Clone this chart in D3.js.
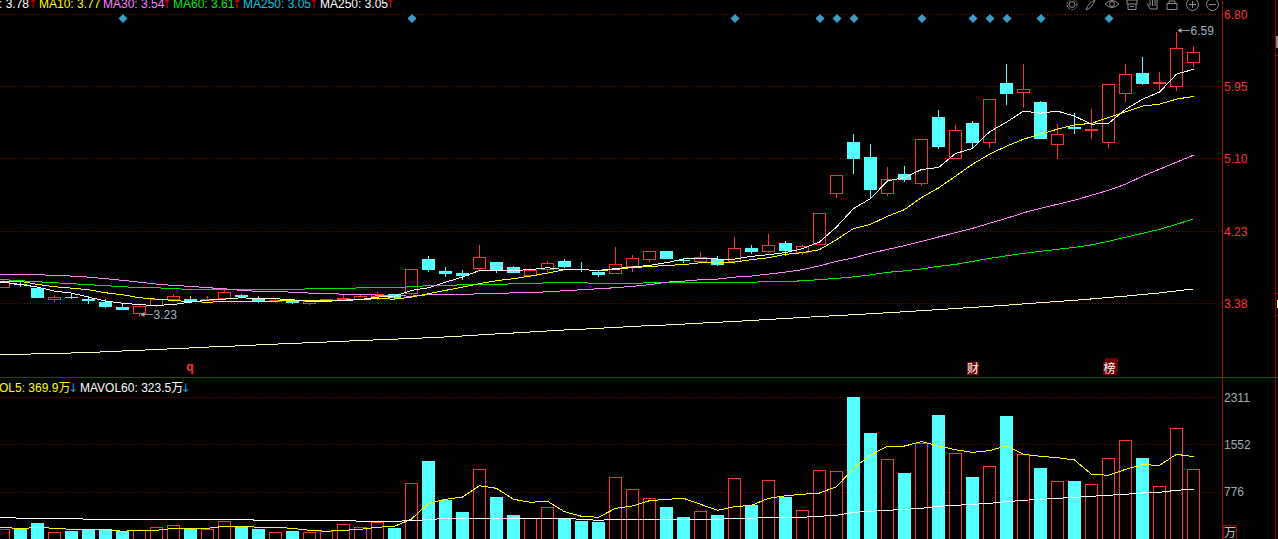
<!DOCTYPE html>
<html><head><meta charset="utf-8">
<script src="https://cdn.jsdelivr.net/npm/d3@7"></script>
<style>
html,body{margin:0;padding:0;background:#000;overflow:hidden}
svg{display:block}
text{font-family:"Liberation Sans",Arial,"Noto Sans CJK SC",sans-serif;font-size:12px}
</style></head><body>
<script>
const opens=[3.573,3.605,3.558,3.427,3.451,3.427,3.391,3.332,3.261,3.352,3.423,3.427,3.407,3.439,3.475,3.431,3.403,3.407,3.372,3.409,3.423,3.423,3.463,3.486,3.495,3.902,3.759,3.736,3.787,3.866,3.807,3.715,3.780,3.878,3.783,3.748,3.727,3.815,3.894,3.997,3.890,3.878,3.902,3.875,4.033,3.997,4.092,3.977,4.072,4.682,5.291,5.114,4.678,4.912,4.801,5.589,5.093,5.517,5.283,5.992,5.877,5.766,5.271,5.470,5.426,5.295,5.870,6.111,5.992,5.957,6.233];
const closes=[3.629,3.590,3.439,3.451,3.439,3.407,3.332,3.296,3.344,3.423,3.463,3.400,3.423,3.510,3.447,3.400,3.415,3.379,3.400,3.421,3.439,3.463,3.483,3.439,3.780,3.771,3.724,3.700,3.922,3.763,3.736,3.771,3.851,3.807,3.771,3.712,3.839,3.910,3.994,3.902,3.878,3.930,3.831,4.029,3.985,4.065,3.997,4.053,4.442,4.896,5.090,4.722,4.849,4.840,5.324,5.233,5.430,5.280,5.798,5.862,5.917,5.327,5.387,5.446,5.438,5.980,6.099,5.980,6.004,6.404,6.357];
const highs=[3.653,3.629,3.558,3.475,3.502,3.463,3.427,3.367,3.367,3.423,3.486,3.463,3.463,3.534,3.486,3.463,3.431,3.415,3.400,3.421,3.495,3.479,3.510,3.486,3.780,3.938,3.807,3.771,4.069,3.866,3.819,3.795,3.878,3.902,3.866,3.771,4.045,3.950,3.994,3.997,3.914,3.985,3.938,4.164,4.069,4.200,4.116,4.069,4.442,4.896,5.386,5.268,4.995,5.007,5.324,5.672,5.494,5.541,5.798,6.218,6.218,5.778,5.505,5.636,5.683,5.980,6.218,6.301,6.123,6.598,6.432];
const lows=[3.558,3.574,3.439,3.391,3.431,3.367,3.320,3.296,3.230,3.335,3.391,3.400,3.403,3.415,3.439,3.379,3.383,3.367,3.356,3.403,3.423,3.415,3.415,3.415,3.479,3.751,3.688,3.653,3.751,3.739,3.736,3.692,3.751,3.803,3.748,3.688,3.727,3.751,3.866,3.902,3.854,3.866,3.819,3.843,3.961,3.973,3.938,3.950,4.069,4.630,4.912,4.615,4.650,4.816,4.769,5.209,5.093,5.221,5.221,5.731,5.695,5.327,5.090,5.387,5.327,5.221,5.767,5.969,5.909,5.897,6.182];
const ma5=[3.629,3.605,3.573,3.526,3.502,3.455,3.407,3.383,3.364,3.356,3.367,3.395,3.419,3.431,3.447,3.435,3.435,3.423,3.403,3.407,3.411,3.427,3.455,3.466,3.534,3.566,3.632,3.692,3.771,3.768,3.771,3.780,3.803,3.780,3.780,3.771,3.792,3.811,3.831,3.863,3.906,3.918,3.906,3.906,3.938,3.958,3.982,4.029,4.108,4.286,4.504,4.623,4.832,4.872,4.967,4.991,5.157,5.217,5.414,5.529,5.660,5.636,5.660,5.600,5.505,5.514,5.680,5.802,5.885,6.099,6.155];
const ma10=[3.644,3.641,3.605,3.578,3.561,3.542,3.506,3.483,3.447,3.431,3.415,3.400,3.395,3.400,3.400,3.403,3.407,3.415,3.419,3.419,3.419,3.427,3.435,3.431,3.455,3.495,3.534,3.573,3.614,3.649,3.673,3.704,3.739,3.780,3.780,3.771,3.780,3.807,3.815,3.831,3.839,3.863,3.858,3.870,3.899,3.922,3.961,3.982,4.017,4.136,4.267,4.318,4.413,4.492,4.635,4.749,4.888,5.030,5.149,5.244,5.327,5.387,5.446,5.497,5.514,5.585,5.651,5.719,5.743,5.802,5.834];
const ma30=[3.720,3.720,3.720,3.712,3.704,3.692,3.673,3.653,3.632,3.609,3.593,3.582,3.566,3.554,3.534,3.522,3.518,3.514,3.502,3.495,3.490,3.483,3.479,3.471,3.466,3.483,3.483,3.483,3.495,3.495,3.506,3.506,3.518,3.530,3.542,3.554,3.566,3.582,3.602,3.632,3.644,3.661,3.668,3.692,3.704,3.728,3.751,3.780,3.825,3.878,3.920,3.973,4.021,4.065,4.116,4.167,4.218,4.270,4.330,4.389,4.454,4.508,4.555,4.603,4.662,4.722,4.793,4.888,4.971,5.054,5.137];
const ma60=[3.661,3.649,3.637,3.625,3.614,3.602,3.590,3.578,3.566,3.566,3.554,3.546,3.542,3.542,3.540,3.540,3.540,3.540,3.554,3.554,3.554,3.566,3.566,3.566,3.578,3.590,3.590,3.602,3.602,3.602,3.614,3.614,3.625,3.625,3.625,3.617,3.617,3.617,3.625,3.625,3.625,3.625,3.625,3.625,3.632,3.637,3.637,3.649,3.661,3.677,3.694,3.718,3.748,3.766,3.789,3.819,3.843,3.878,3.914,3.944,3.973,3.997,4.021,4.045,4.074,4.116,4.164,4.211,4.258,4.318,4.383];
const ma250=[2.774,2.777,2.782,2.786,2.792,2.798,2.806,2.816,2.825,2.833,2.843,2.852,2.862,2.870,2.878,2.888,2.897,2.906,2.914,2.922,2.931,2.940,2.948,2.956,2.964,2.973,2.982,2.994,3.006,3.018,3.029,3.041,3.053,3.065,3.073,3.085,3.095,3.106,3.118,3.124,3.135,3.146,3.156,3.166,3.178,3.190,3.202,3.213,3.225,3.235,3.246,3.257,3.269,3.281,3.294,3.306,3.320,3.332,3.346,3.359,3.374,3.388,3.403,3.417,3.433,3.451,3.466,3.486,3.504,3.528,3.552];
const volumes=[178,178,275,125,146,178,178,146,151,206,238,178,178,303,211,178,125,146,125,134,254,206,287,194,918,1279,648,453,1145,696,405,351,530,351,308,291,1015,821,675,534,372,465,405,999,567,967,696,481,1129,1113,2316,1733,1307,1085,1566,2024,1404,1020,1193,2008,1388,1166,951,955,902,1323,1615,1328,870,1809,1145];
const mavol5=[206,183,206,189,173,173,173,141,157,157,189,189,189,222,222,206,206,189,157,141,157,173,206,222,340,594,659,696,879,837,659,611,627,458,384,368,513,551,636,659,675,578,481,539,562,675,717,740,761,863,1161,1376,1517,1522,1592,1522,1462,1420,1446,1527,1388,1355,1333,1296,1064,1048,1145,1219,1210,1388,1349];
const mavol60=[372,351,351,351,351,335,335,335,335,335,335,335,335,335,335,319,319,319,319,319,319,303,303,303,313,329,351,351,351,351,351,351,351,351,335,319,335,335,335,335,335,335,335,351,351,368,368,368,384,400,449,465,481,497,513,546,562,578,594,620,643,659,675,691,708,724,740,761,772,805,821];
const priceTicks=[6.80,5.95,5.10,4.23,3.38];
const volTicks=[2311,1552,776];
const eventIdx=[7,24,43,48,49,50,54,57,58,59,61,65];
const legendTop=[[": 3.78","#ffffff",-1,32.5],["MA10: 3.77","#ffff00",39,null],["MA30: 3.54","#ff80ff",103,166.5],["MA60: 3.61","#00ee00",173,236.5],["MA250: 3.05","#00c8e0",243,313.5],["MA250: 3.05","#ffffff",320,390]];

const W=1278,H=539,AX=1222;
const svg=d3.select("body").append("svg").attr("width",W).attr("height",H).style("background","#000");
svg.append("defs").append("clipPath").attr("id","plot").append("rect").attr("width",AX).attr("height",H);
const x=d3.scaleLinear().domain([0,70]).range([3.5,1193.5]);
const y=d3.scaleLinear().domain([6.8,3.38]).range([14.95,303.4]);
const yv=d3.scaleLinear().domain([0,2311]).range([540,397.3]);
const RED="#ff3232",CY="#54ffff",GRID="#980000",AXIS="#a00000";
const px=v=>Math.floor(v)+.5;
const plot=svg.append("g").attr("clip-path","url(#plot)");

// grid
function grid(vals,s){plot.append("g").selectAll("line").data(vals).join("line")
 .attr("x1",0).attr("x2",AX).attr("y1",d=>px(s(d))).attr("y2",d=>px(s(d)))
 .attr("stroke",GRID).attr("stroke-dasharray","1 2").attr("shape-rendering","crispEdges");}
grid(priceTicks,y);grid(volTicks,yv);

// candles
const idx=d3.range(opens.length);
const isUp=i=>closes[i]>=opens[i];
const cg=plot.append("g").attr("shape-rendering","crispEdges");
cg.selectAll("line").data(idx).join("line")
 .attr("x1",i=>x(i)).attr("x2",i=>x(i)).attr("y1",i=>y(highs[i])).attr("y2",i=>y(lows[i]))
 .attr("stroke",i=>isUp(i)?RED:CY);
cg.selectAll("rect").data(idx).join("rect")
 .attr("x",i=>isUp(i)?x(i)-6:x(i)-6.5)
 .attr("width",i=>isUp(i)?12:13)
 .attr("y",i=>isUp(i)?px(y(closes[i])):Math.round(y(opens[i])))
 .attr("height",i=>isUp(i)?Math.max(1,Math.round(y(opens[i])-y(closes[i]))):Math.max(1,Math.round(y(closes[i])-y(opens[i]))))
 .attr("fill",i=>isUp(i)?"#000":CY)
 .attr("stroke",i=>isUp(i)?RED:"none");

// moving averages: the window starts mid-line, so the first value runs on to the left edge
const line=(s,arr)=>d3.line().x(d=>x(d[0])).y(d=>s(d[1]))([[-0.3,arr[0]],...arr.map((v,i)=>[i,v])]);
[[ma250,"#ffffb4"],[ma60,"#00e600"],[ma30,"#ff80ff"],[ma10,"#ffff00"],[ma5,"#ffffff"]].forEach(([a,c])=>
 plot.append("path").attr("d",line(y,a)).attr("fill","none").attr("stroke",c).attr("stroke-width",1).attr("shape-rendering","crispEdges"));

// events
plot.append("g").selectAll("path").data(eventIdx).join("path")
 .attr("d",d3.symbol(d3.symbolSquare,40))
 .attr("transform",i=>`translate(${x(i)+.5},18.5) rotate(45)`).attr("fill","#3a9cc8");

// extreme labels
function extreme(i,val,txt){const g=plot.append("g"),yy=Math.floor(y(val))-.5;
 g.append("line").attr("x1",x(i)+1).attr("x2",x(i)+13).attr("y1",yy).attr("y2",yy).attr("stroke","#999").attr("shape-rendering","crispEdges");
 g.append("path").attr("d",`M${x(i)+1} ${yy}l4 -2.5v5z`).attr("fill","#aaa");
 g.append("text").attr("x",x(i)+14).attr("y",yy+4).attr("fill","#a4b4c4").text(txt);}
extreme(69,6.598,"6.59");extreme(8,3.24,"3.23");

// volume
const vg=plot.append("g").attr("shape-rendering","crispEdges");
vg.selectAll("rect").data(idx).join("rect")
 .attr("x",i=>isUp(i)?x(i)-6:x(i)-6.5)
 .attr("width",i=>isUp(i)?12:13)
 .attr("y",i=>isUp(i)?px(yv(volumes[i])):Math.round(yv(volumes[i])))
 .attr("height",i=>545-yv(volumes[i]))
 .attr("fill",i=>isUp(i)?"#000":CY)
 .attr("stroke",i=>isUp(i)?RED:"none");
[[mavol5,"#ffff00"],[mavol60,"#ffffff"]].forEach(([a,c])=>
 plot.append("path").attr("d",line(yv,a)).attr("fill","none").attr("stroke",c).attr("stroke-width",1).attr("shape-rendering","crispEdges"));

// frame
const fr=svg.append("g").attr("stroke",AXIS).attr("shape-rendering","crispEdges");
fr.append("line").attr("x1",0).attr("x2",W).attr("y1",377.5).attr("y2",377.5);
fr.append("line").attr("x1",AX+.5).attr("x2",AX+.5).attr("y1",0).attr("y2",H);
fr.append("line").attr("x1",1275.5).attr("x2",1275.5).attr("y1",0).attr("y2",H);
[293,315,40,55].forEach(v=>fr.append("line").attr("x1",1275).attr("x2",W).attr("y1",v+.5).attr("y2",v+.5));
svg.append("rect").attr("x",1277).attr("y",300).attr("width",1).attr("height",8).attr("fill","#ffff80");
svg.append("rect").attr("x",1276).attr("y",36).attr("width",2).attr("height",12).attr("fill","#888");

// axes
function axis(vals,s,col,fmt){const g=svg.append("g").attr("transform",`translate(${AX},0)`)
 .call(d3.axisRight(s).tickValues(vals).tickSize(0).tickPadding(2).tickFormat(fmt));
 g.select(".domain").remove();
 g.selectAll("text").attr("fill",col).attr("font-family",'"Liberation Sans",Arial,sans-serif').attr("font-size",12);}
axis(priceTicks,y,RED,d3.format(".2f"));
axis(volTicks,yv,"#a2aeb6",d=>String(d));
svg.append("rect").attr("x",1223.5).attr("y",525.5).attr("width",13).attr("height",14).attr("fill","#000").attr("stroke",AXIS);
svg.append("text").attr("x",1224).attr("y",537).attr("fill","#c0c0c0").style("font-family",'"Noto Sans CJK SC"').text("万");

// legends
const lg=svg.append("g");
const arrow=(cx,yy,t,c)=>lg.append("text").attr("x",cx).attr("y",yy).attr("text-anchor","middle").attr("fill",c).style("font-family",'"DejaVu Sans"').style("font-size","12px").text(t);
legendTop.forEach(([t,c,a,b])=>{
 lg.append("text").attr("x",a).attr("y",8).attr("fill",c).text(t);
 if(b!==null)arrow(b,8,"↑","#d00000");});
[["OL5: 369.9万","#ffff00",-1,73],["MAVOL60: 323.5万","#ffffff",80,185.5]].forEach(([t,c,a,b])=>{
 lg.append("text").attr("x",a).attr("y",392).attr("fill",c).text(t);
 arrow(b,392,"↓","#1e96dc");});

// tags
svg.append("text").attr("x",190).attr("y",371).attr("text-anchor","middle").attr("fill",RED).attr("font-weight","bold").text("q");
svg.append("rect").attr("x",967).attr("y",362).attr("width",12).attr("height",13).attr("fill","#6e0000");
svg.append("rect").attr("x",1105).attr("y",358).attr("width",13).attr("height",14).attr("fill","#6e0000");
svg.append("rect").attr("x",1103).attr("y",362).attr("width",13).attr("height",13).attr("fill","#6e0000");
[["财",973],["榜",1109.5]].forEach(([t,cx])=>svg.append("text").attr("x",cx).attr("y",373).attr("text-anchor","middle").attr("fill","#fff").style("font-family",'"Noto Sans CJK SC"').text(t));

// toolbar icons
const ic=svg.append("g").attr("fill","none").attr("stroke","#8c8c8c").attr("stroke-width",1);
ic.append("circle").attr("cx",1072).attr("cy",4.5).attr("r",3);
ic.append("circle").attr("cx",1072).attr("cy",4.5).attr("r",5).attr("stroke-dasharray","2 1.2");
ic.append("path").attr("d","M1086 10Q1088 3 1095 0M1086 10Q1092 8 1095 0");
ic.append("path").attr("d","M1105 4Q1112 -3 1119 4Q1112 11 1105 4Z");
ic.append("circle").attr("cx",1112).attr("cy",4).attr("r",2.5);
ic.append("path").attr("d","M1127 0H1137V4H1127ZM1128 4V9.5H1136V4M1130 6.5H1134");
ic.append("path").attr("d","M1147 3L1150 9H1157V0M1150 6V-1M1152.5 6V-1M1155 6V-1");
ic.append("path").attr("d","M1167 3.5H1177V9.5H1167ZM1169 3.5V1H1175V3.5");
ic.append("circle").attr("cx",1192.5).attr("cy",4.5).attr("r",6);
ic.append("path").attr("d","M1189 4.5H1196M1192.5 1V8");
ic.append("circle").attr("cx",1212.5).attr("cy",4.5).attr("r",6);
ic.append("path").attr("d","M1209 4.5H1216");
</script>
</body></html>
